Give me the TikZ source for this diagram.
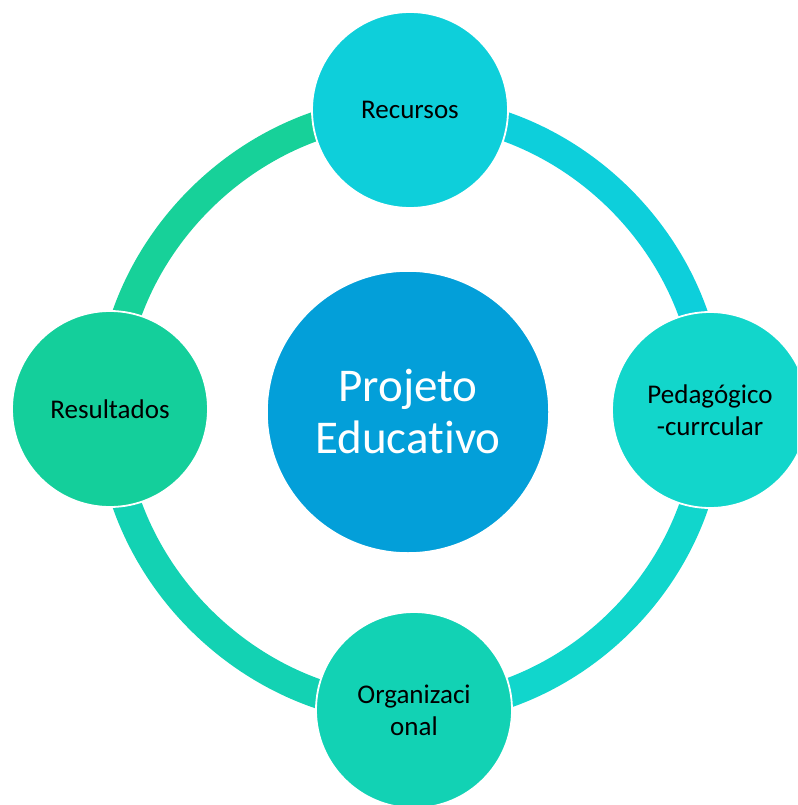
\documentclass[tikz,border=0pt]{standalone}
\usepackage{fontspec}
\setmainfont{Carlito}[Ligatures={NoCommon}]
\usetikzlibrary{backgrounds}
\definecolor{cRec}{HTML}{0ECFDA}
\definecolor{cPed}{HTML}{12D6CB}
\definecolor{cOrg}{HTML}{12D2B4}
\definecolor{cRes}{HTML}{14CF9B}
\definecolor{cCen}{HTML}{039FD9}
\definecolor{aRP}{HTML}{0DCFDB}
\definecolor{aPO}{HTML}{11D6CC}
\definecolor{aOR}{HTML}{13D2B3}
\definecolor{aRR}{HTML}{17D199}
\tikzset{
  outer/.style={circle, minimum size=196pt, inner sep=0pt, draw=white, line width=1.8pt,
    align=center, font=\fontsize{27}{32}\selectfont, text=black},
  center/.style={circle, minimum size=282pt, inner sep=0pt, draw=white, line width=1.5pt,
    align=center, font=\fontsize{47}{52}\selectfont, text=white, fill=cCen},
  ring/.style={line width=29pt, bend left=45, looseness=0.97}
}
\begin{document}
\begin{tikzpicture}[x=1pt, y=-1pt]
\useasboundingbox (0,0) rectangle (797,805);
\clip (0,0) rectangle (797,805);
\node[center] (cen) at (408,412) {Projeto\\Educativo};
\node[outer, fill=cRec] (rec) at (410,110) {Recursos};
\node[outer, fill=cPed] (ped) at (710,410) {Pedagógico\\-currcular};
\node[outer, fill=cOrg] (org) at (414,710) {Organizaci\\onal};
\node[outer, fill=cRes] (res) at (110,409) {Resultados};
\begin{scope}[on background layer]
\draw[ring, draw=aRP] (rec.center) to (ped.center);
\draw[ring, draw=aPO] (ped.center) to (org.center);
\draw[ring, draw=aOR] (org.center) to (res.center);
\draw[ring, draw=aRR] (res.center) to (rec.center);
\end{scope}
\end{tikzpicture}
\end{document}
